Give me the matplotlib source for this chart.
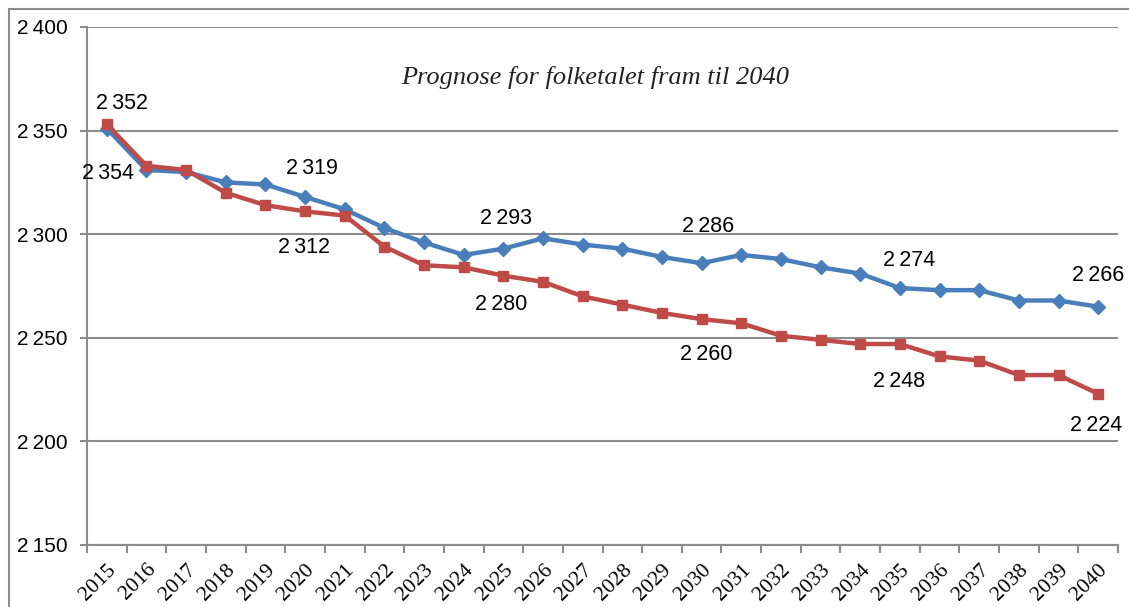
import matplotlib
matplotlib.use("Agg")
import matplotlib.pyplot as plt
from matplotlib.patches import Rectangle

years = list(range(2015, 2041))
blueValues = [2351, 2331, 2330, 2325, 2324, 2318, 2312, 2303, 2296, 2290, 2293, 2298,
              2295, 2293, 2289, 2286, 2290, 2288, 2284, 2281, 2274, 2273, 2273, 2268,
              2268, 2265]
redValues = [2353, 2333, 2331, 2320, 2314, 2311, 2309, 2294, 2285, 2284, 2280, 2277,
             2270, 2266, 2262, 2259, 2257, 2251, 2249, 2247, 2247, 2241, 2239, 2232,
             2232, 2223]
labelYears = [2015, 2020, 2025, 2030, 2035, 2040]
blueLabels = [2354, 2319, 2293, 2286, 2274, 2266]
redLabels = [2352, 2312, 2280, 2260, 2248, 2224]
yTicks = [2150, 2200, 2250, 2300, 2350, 2400]
title = "Prognose for folketalet fram til 2040"


def fmt(v):
    return "%d\u2009%03d" % (v // 1000, v % 1000)


sansFont = ["Liberation Sans", "DejaVu Sans"]
serifFont = ["Liberation Serif", "DejaVu Serif"]

fig = plt.figure(figsize=(11.29, 6.07), dpi=100)
ax = fig.add_axes([87 / 1129, 62 / 607, 1031 / 1129, 518 / 607])

# outer frame of the picture
fig.patches.append(Rectangle((9 / 1129, -0.1), 1.2, (598 / 607) + 0.1, transform=fig.transFigure,
                             fill=False, edgecolor="#8c8c8c", linewidth=1.5))

x = list(range(len(years)))
blueColor = "#4a7ebb"
redColor = "#be4b48"
ax.plot(x, blueValues, color=blueColor, linewidth=3.2, marker="D", markersize=7, zorder=3)
ax.plot(x, redValues, color=redColor, linewidth=3.2, marker="s", markersize=7, zorder=4)

ax.set_xlim(-0.5, len(years) - 0.5)
ax.set_ylim(2150, 2400)

gridColor = "#8c8c8c"
ax.set_yticks(yTicks)
ax.set_yticklabels([fmt(v) for v in yTicks], fontsize=15, family=sansFont)
ax.yaxis.grid(True, color=gridColor, linewidth=1.5)
ax.set_axisbelow(True)

ax.set_xticks(x)
ax.set_xticklabels([str(y) for y in years], rotation=45, ha="right", rotation_mode="anchor",
                   fontsize=15.5, family=serifFont)
ax.set_xticks([i - 0.5 for i in range(len(years) + 1)], minor=True)
ax.tick_params(axis="x", which="major", length=0, pad=11)
ax.tick_params(axis="x", which="minor", length=6, color=gridColor, width=1.5)
ax.tick_params(axis="y", length=5, color=gridColor, width=1.5, pad=9)

for side in ["top", "right"]:
    ax.spines[side].set_visible(False)
for side in ["left", "bottom"]:
    ax.spines[side].set_color(gridColor)
    ax.spines[side].set_linewidth(1.5)

blueOffsets = [(1, -45), (7, 28), (3, 30), (6, 37), (9, 28), (0, 31)]
redOffsets = [(15, 21), (-1, -36), (-2, -29), (5, -35), (-1, -37), (-2, -32)]
for yr, lab, off in zip(labelYears, blueLabels, blueOffsets):
    i = years.index(yr)
    ax.annotate(fmt(lab), (i, blueValues[i]), xytext=off, textcoords="offset pixels",
                ha="center", va="center", fontsize=15.5, family=sansFont, annotation_clip=False)
for yr, lab, off in zip(labelYears, redLabels, redOffsets):
    i = years.index(yr)
    ax.annotate(fmt(lab), (i, redValues[i]), xytext=off, textcoords="offset pixels",
                ha="center", va="center", fontsize=15.5, family=sansFont, annotation_clip=False)

ax.text(0.493, 0.903, title, transform=ax.transAxes, ha="center", va="center",
        fontsize=19, style="italic", family=serifFont, color="#222222")

fig.savefig("out.png", dpi=100)
